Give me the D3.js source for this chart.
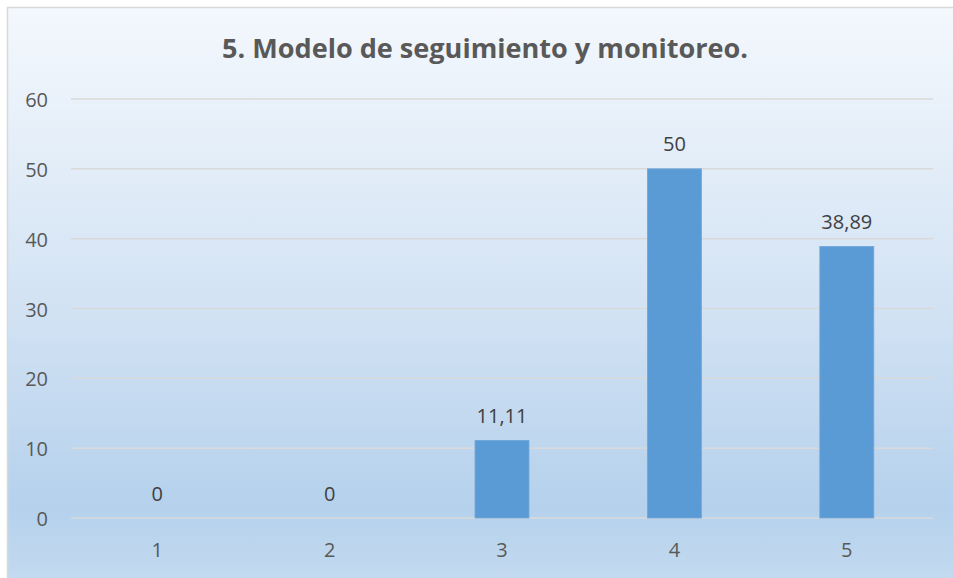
<!DOCTYPE html>
<html><head><meta charset="utf-8">
<script src="https://cdn.jsdelivr.net/npm/d3@7/dist/d3.min.js"></script>
<style>body{margin:0;background:#fff;}svg{display:block;}</style>
</head><body>
<svg id="c" width="953" height="578"></svg>
<script>
const title = "5. Modelo de seguimiento y monitoreo.";
const categories = ["1","2","3","4","5"];
const values = [0, 0, 11.11, 50, 38.89];
const yTicks = [0,10,20,30,40,50,60];

const W = 953, H = 578;
const svg = d3.select("#c");
const defs = svg.append("defs");
const g = defs.append("linearGradient").attr("id","bg").attr("x1",0).attr("y1",0).attr("x2",0).attr("y2",1);
[[0,"#f4f8fd"],[0.5,"#d3e3f4"],[0.85,"#b5d1ec"],[1,"#c6dcf0"]].forEach(([o,c])=>g.append("stop").attr("offset",o).attr("stop-color",c));

svg.append("rect").attr("x",7.5).attr("y",7.5).attr("width",W+10).attr("height",H+10)
  .attr("fill","url(#bg)").attr("stroke","#d9d9d9").attr("stroke-width",1.5);

const x = d3.scaleBand().domain(categories).range([71,933]).paddingInner(0.687).paddingOuter(0.3435);
const y = d3.scaleLinear().domain([0,60]).range([518,99]);

// gridlines
svg.append("g").selectAll("line").data(yTicks).join("line")
  .attr("x1",71).attr("x2",933).attr("y1",d=>y(d)).attr("y2",d=>y(d))
  .attr("stroke","#d9d9d9").attr("stroke-width",1.5);

// y tick labels
svg.append("g").selectAll("text").data(yTicks).join("text")
  .attr("x",48).attr("y",d=>y(d)+8).attr("text-anchor","end")
  .attr("font-family","Open Sans").attr("font-size",20).attr("fill","#595959").text(d=>d);

// bars
svg.append("g").selectAll("rect").data(values).join("rect")
  .attr("x",(d,i)=>x(categories[i])).attr("width",x.bandwidth())
  .attr("y",d=>y(d)).attr("height",d=>y(0)-y(d))
  .attr("fill","#5b9bd5").attr("stroke","#6ea7da").attr("stroke-width",0.8);

// data labels
const fmt = v => String(v).replace(".",",");
svg.append("g").selectAll("text").data(values).join("text")
  .attr("x",(d,i)=>x(categories[i])+x.bandwidth()/2).attr("y",d=>y(d)-17.5)
  .attr("text-anchor","middle").attr("font-family","Open Sans").attr("font-size",20)
  .attr("fill","#404040").text(fmt);

// x labels
svg.append("g").selectAll("text").data(categories).join("text")
  .attr("x",d=>x(d)+x.bandwidth()/2).attr("y",556.5)
  .attr("text-anchor","middle").attr("font-family","Open Sans").attr("font-size",20)
  .attr("fill","#595959").text(d=>d);

// title
svg.append("text").attr("x",485).attr("y",57.5).attr("text-anchor","middle")
  .attr("font-family","Open Sans").attr("font-weight","bold").attr("font-size",27)
  .attr("fill","#595959").attr("textLength",526).attr("lengthAdjust","spacingAndGlyphs").text(title);
</script>
</body></html>
